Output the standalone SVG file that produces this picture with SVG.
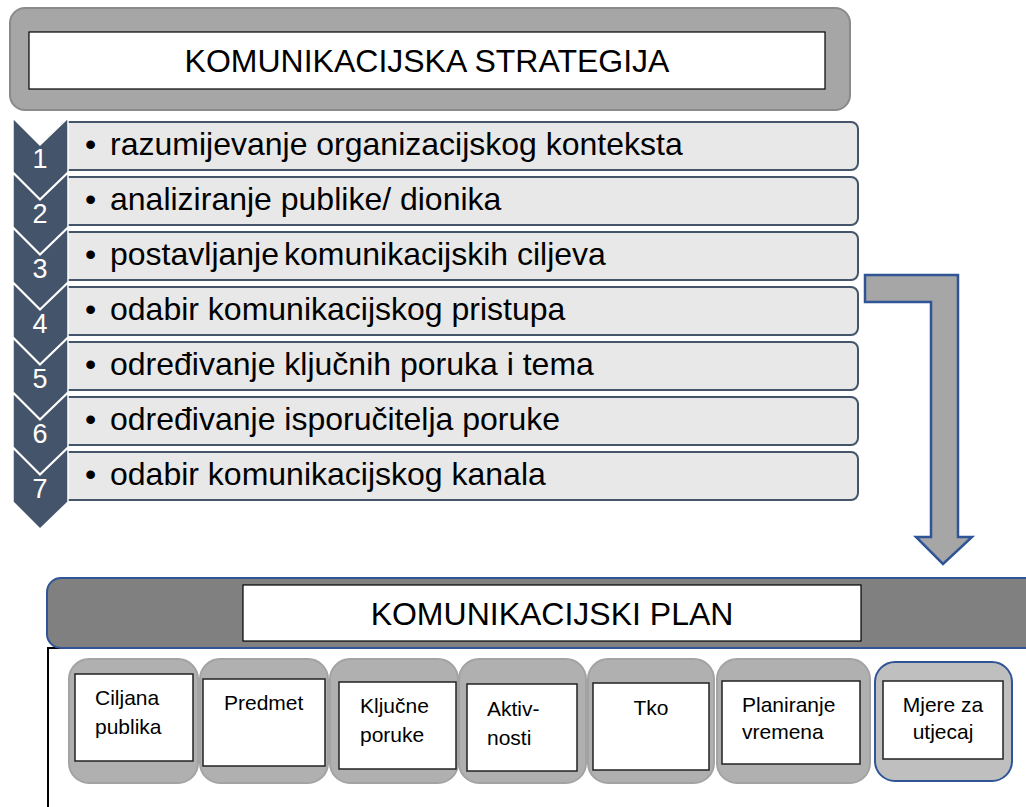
<svg xmlns="http://www.w3.org/2000/svg" width="1026" height="807" viewBox="0 0 1026 807">
<style>
text{font-family:"Liberation Sans",Arial,sans-serif;fill:#000}
.title{font-size:32px;text-anchor:middle}
.bar{fill:#e8e8e8;stroke:#44546a;stroke-width:2}
.barText{font-size:32px}
.chev{fill:#44546a;stroke:#ffffff;stroke-width:1.5}
.num{font-size:27px;fill:#ffffff;text-anchor:middle}
.col{fill:#b0b0b0;stroke:#a3a3a3;stroke-width:2}
.inner{fill:#ffffff;stroke:#222222;stroke-width:1.5}
.lbl{font-size:21px}
.mid{text-anchor:middle}
</style>
<rect width="1026" height="807" fill="#ffffff"/>

<g id="strategy-header">
<rect x="10" y="8" width="840" height="102" rx="15" fill="#a6a6a6" stroke="#8a8a8a" stroke-width="2"/>
<rect x="29" y="32" width="796" height="57" fill="#ffffff" stroke="#000000" stroke-width="1.2"/>
<text class="title" x="427" y="72">KOMUNIKACIJSKA STRATEGIJA</text>
</g>

<g id="step-bars">
<rect class="bar" x="60" y="122" width="798" height="48" rx="7"/>
<rect class="bar" x="60" y="177" width="798" height="48" rx="7"/>
<rect class="bar" x="60" y="232" width="798" height="48" rx="7"/>
<rect class="bar" x="60" y="287" width="798" height="48" rx="7"/>
<rect class="bar" x="60" y="342" width="798" height="48" rx="7"/>
<rect class="bar" x="60" y="397" width="798" height="48" rx="7"/>
<rect class="bar" x="60" y="452" width="798" height="48" rx="7"/>
</g>

<g id="step1">
<polygon class="chev" points="13,118 40,145 68,118 68,172 40,199 13,172"/>
<text class="num" x="40" y="168">1</text>
<text class="barText" x="85" y="155">•</text>
<text class="barText" x="110" y="155">razumijevanje organizacijskog konteksta</text>
</g>
<g id="step2">
<polygon class="chev" points="13,173 40,200 68,173 68,227 40,254 13,227"/>
<text class="num" x="40" y="223">2</text>
<text class="barText" x="85" y="210">•</text>
<text class="barText" x="110" y="210">analiziranje publike/ dionika</text>
</g>
<g id="step3">
<polygon class="chev" points="13,228 40,255 68,228 68,282 40,309 13,282"/>
<text class="num" x="40" y="278">3</text>
<text class="barText" x="85" y="265">•</text>
<text class="barText" x="110" y="265"><tspan>postavljanje</tspan><tspan x="284">komunikacijskih ciljeva</tspan></text>
</g>
<g id="step4">
<polygon class="chev" points="13,283 40,310 68,283 68,337 40,364 13,337"/>
<text class="num" x="40" y="333">4</text>
<text class="barText" x="85" y="320">•</text>
<text class="barText" x="110" y="320">odabir komunikacijskog pristupa</text>
</g>
<g id="step5">
<polygon class="chev" points="13,338 40,365 68,338 68,392 40,419 13,392"/>
<text class="num" x="40" y="388">5</text>
<text class="barText" x="85" y="375">•</text>
<text class="barText" x="110" y="375">određivanje ključnih poruka i tema</text>
</g>
<g id="step6">
<polygon class="chev" points="13,393 40,420 68,393 68,447 40,474 13,447"/>
<text class="num" x="40" y="443">6</text>
<text class="barText" x="85" y="430">•</text>
<text class="barText" x="110" y="430">određivanje isporučitelja poruke</text>
</g>
<g id="step7">
<polygon class="chev" points="13,448 40,475 68,448 68,502 40,529 13,502"/>
<text class="num" x="40" y="498">7</text>
<text class="barText" x="85" y="485">•</text>
<text class="barText" x="110" y="485">odabir komunikacijskog kanala</text>
</g>

<g id="connectors">
<polygon points="865,275 958,275 958,537 972,537 943,564 916,537 931,537 931,302 865,302" fill="#a6a6a6" stroke="#2f5597" stroke-width="2.5"/>
</g>

<g id="plan-frame">
<rect x="48" y="648" width="1000" height="200" fill="#ffffff" stroke="#000000" stroke-width="2"/>
</g>

<g id="plan-header">
<rect x="47" y="578" width="1020" height="70" rx="14" fill="#808080" stroke="#2f5597" stroke-width="2"/>
<rect x="243" y="585" width="618" height="56" fill="#ffffff" stroke="#000000" stroke-width="1.2"/>
<text class="title" x="552" y="625">KOMUNIKACIJSKI PLAN</text>
</g>

<g id="col-ciljana">
<rect class="col" x="69" y="659" width="129" height="124" rx="20"/>
<rect class="inner" x="75" y="674" width="118" height="87"/>
<text class="lbl" x="95" y="705">Ciljana</text>
<text class="lbl" x="95" y="734">publika</text>
</g>
<g id="col-predmet">
<rect class="col" x="200" y="659" width="128" height="124" rx="20"/>
<rect class="inner" x="203" y="679" width="122" height="87"/>
<text class="lbl" x="224" y="710">Predmet</text>
</g>
<g id="col-kljucne">
<rect class="col" x="330" y="659" width="128" height="124" rx="20"/>
<rect class="inner" x="339" y="682" width="117" height="87"/>
<text class="lbl" x="360" y="713">Ključne</text>
<text class="lbl" x="360" y="742">poruke</text>
</g>
<g id="col-aktivnosti">
<rect class="col" x="459" y="659" width="127" height="124" rx="20"/>
<rect class="inner" x="467" y="684" width="110" height="87"/>
<text class="lbl" x="487" y="716">Aktiv-</text>
<text class="lbl" x="487" y="745">nosti</text>
</g>
<g id="col-tko">
<rect class="col" x="588" y="659" width="126" height="124" rx="20"/>
<rect class="inner" x="593" y="683" width="116" height="87"/>
<text class="lbl mid" x="651" y="715">Tko</text>
</g>
<g id="col-planiranje">
<rect class="col" x="717" y="659" width="153" height="124" rx="20"/>
<rect class="inner" x="722" y="681" width="138" height="83"/>
<text class="lbl" x="742" y="712">Planiranje</text>
<text class="lbl" x="742" y="739">vremena</text>
</g>
<g id="col-mjere">
<rect x="875" y="662" width="137" height="119" rx="20" fill="#bfbfbf" stroke="#2f5597" stroke-width="2"/>
<rect class="inner" x="883" y="681" width="120" height="78"/>
<text class="lbl mid" x="943" y="712">Mjere za</text>
<text class="lbl mid" x="943" y="739">utjecaj</text>
</g>
</svg>
